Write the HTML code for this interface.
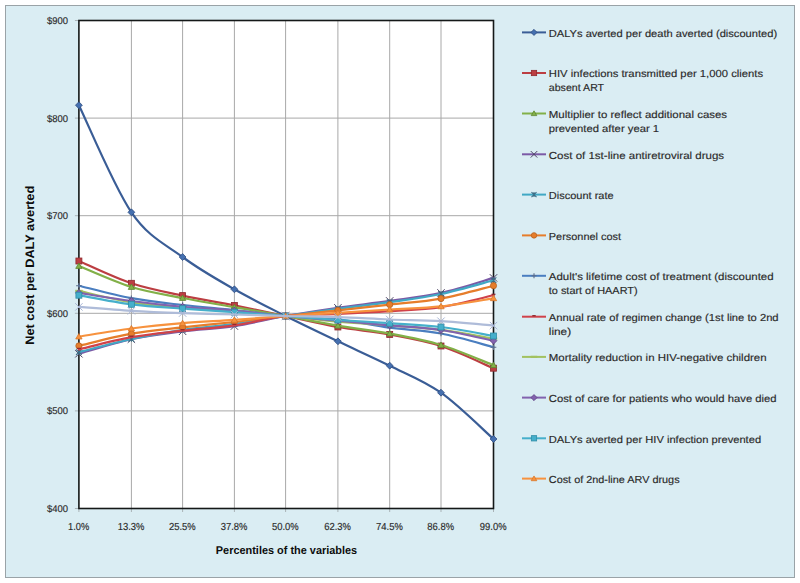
<!DOCTYPE html><html><head><meta charset="utf-8"><style>html,body{margin:0;padding:0;background:#fff;width:800px;height:583px;overflow:hidden}svg{display:block}text{font-family:"Liberation Sans",sans-serif;text-rendering:geometricPrecision}</style></head><body>
<svg width="800" height="583" viewBox="0 0 800 583">
<rect x="5.5" y="5.5" width="789" height="572" fill="#DAEDF3" stroke="#9AA3A7" stroke-width="1"/>
<rect x="78.90" y="20.50" width="414.60" height="488.00" fill="#FFFFFF"/>
<path d="M78.90,118.10H493.50 M78.90,215.70H493.50 M78.90,313.30H493.50 M78.90,410.90H493.50 M131.40,20.50V508.50 M182.60,20.50V508.50 M234.40,20.50V508.50 M285.60,20.50V508.50 M337.90,20.50V508.50 M389.70,20.50V508.50 M441.00,20.50V508.50" stroke="#A8A8A8" stroke-width="1" fill="none"/>
<path d="M74.90,20.50H78.90 M74.90,118.10H78.90 M74.90,215.70H78.90 M74.90,313.30H78.90 M74.90,410.90H78.90 M74.90,508.50H78.90 M78.90,508.50V512.00 M131.40,508.50V512.00 M182.60,508.50V512.00 M234.40,508.50V512.00 M285.60,508.50V512.00 M337.90,508.50V512.00 M389.70,508.50V512.00 M441.00,508.50V512.00 M493.50,508.50V512.00" stroke="#A9B3B7" stroke-width="1" fill="none"/>
<rect x="78.90" y="20.50" width="414.60" height="488.00" fill="none" stroke="#141818" stroke-width="1.6"/>
<path d="M78.90,105.20 C87.65,123.05 114.12,187.00 131.40,212.30 C148.68,237.60 165.43,244.17 182.60,257.00 C199.77,269.83 217.23,279.47 234.40,289.30 C251.57,299.13 268.35,307.33 285.60,316.00 C302.85,324.67 320.55,333.02 337.90,341.30 C355.25,349.58 372.52,357.13 389.70,365.70 C406.88,374.27 423.70,380.48 441.00,392.70 C458.30,404.92 484.75,431.28 493.50,439.00" fill="none" stroke="#3A5D96" stroke-width="2.2" stroke-linejoin="round" stroke-linecap="round"/>
<path d="M78.90,101.77L82.33,105.20L78.90,108.63L75.47,105.20Z" fill="#4570B0" stroke="#2F4D80" stroke-width="0.8"/>
<path d="M131.40,208.87L134.83,212.30L131.40,215.73L127.97,212.30Z" fill="#4570B0" stroke="#2F4D80" stroke-width="0.8"/>
<path d="M182.60,253.57L186.03,257.00L182.60,260.43L179.17,257.00Z" fill="#4570B0" stroke="#2F4D80" stroke-width="0.8"/>
<path d="M234.40,285.87L237.83,289.30L234.40,292.73L230.97,289.30Z" fill="#4570B0" stroke="#2F4D80" stroke-width="0.8"/>
<path d="M285.60,312.57L289.03,316.00L285.60,319.43L282.17,316.00Z" fill="#4570B0" stroke="#2F4D80" stroke-width="0.8"/>
<path d="M337.90,337.87L341.33,341.30L337.90,344.73L334.47,341.30Z" fill="#4570B0" stroke="#2F4D80" stroke-width="0.8"/>
<path d="M389.70,362.27L393.13,365.70L389.70,369.13L386.27,365.70Z" fill="#4570B0" stroke="#2F4D80" stroke-width="0.8"/>
<path d="M441.00,389.27L444.43,392.70L441.00,396.13L437.57,392.70Z" fill="#4570B0" stroke="#2F4D80" stroke-width="0.8"/>
<path d="M493.50,435.57L496.93,439.00L493.50,442.43L490.07,439.00Z" fill="#4570B0" stroke="#2F4D80" stroke-width="0.8"/>
<path d="M78.90,261.00 C87.65,264.72 114.12,277.53 131.40,283.30 C148.68,289.07 165.43,291.92 182.60,295.60 C199.77,299.28 217.23,302.00 234.40,305.40 C251.57,308.80 268.35,312.40 285.60,316.00 C302.85,319.60 320.55,323.92 337.90,327.00 C355.25,330.08 372.52,331.33 389.70,334.50 C406.88,337.67 423.70,340.38 441.00,346.00 C458.30,351.62 484.75,364.50 493.50,368.20" fill="none" stroke="#BC3E42" stroke-width="2.2" stroke-linejoin="round" stroke-linecap="round"/>
<rect x="75.91" y="258.01" width="5.98" height="5.98" fill="#BC3E42" stroke="#8E2A2E" stroke-width="0.8"/>
<rect x="128.41" y="280.31" width="5.98" height="5.98" fill="#BC3E42" stroke="#8E2A2E" stroke-width="0.8"/>
<rect x="179.61" y="292.61" width="5.98" height="5.98" fill="#BC3E42" stroke="#8E2A2E" stroke-width="0.8"/>
<rect x="231.41" y="302.41" width="5.98" height="5.98" fill="#BC3E42" stroke="#8E2A2E" stroke-width="0.8"/>
<rect x="282.61" y="313.01" width="5.98" height="5.98" fill="#BC3E42" stroke="#8E2A2E" stroke-width="0.8"/>
<rect x="334.91" y="324.01" width="5.98" height="5.98" fill="#BC3E42" stroke="#8E2A2E" stroke-width="0.8"/>
<rect x="386.71" y="331.51" width="5.98" height="5.98" fill="#BC3E42" stroke="#8E2A2E" stroke-width="0.8"/>
<rect x="438.01" y="343.01" width="5.98" height="5.98" fill="#BC3E42" stroke="#8E2A2E" stroke-width="0.8"/>
<rect x="490.51" y="365.21" width="5.98" height="5.98" fill="#BC3E42" stroke="#8E2A2E" stroke-width="0.8"/>
<path d="M78.90,266.00 C87.65,269.50 114.12,281.67 131.40,287.00 C148.68,292.33 165.43,294.63 182.60,298.00 C199.77,301.37 217.23,304.20 234.40,307.20 C251.57,310.20 268.35,312.92 285.60,316.00 C302.85,319.08 320.55,322.78 337.90,325.70 C355.25,328.62 372.52,330.28 389.70,333.50 C406.88,336.72 423.70,339.72 441.00,345.00 C458.30,350.28 484.75,361.83 493.50,365.20" fill="none" stroke="#82B048" stroke-width="2.2" stroke-linejoin="round" stroke-linecap="round"/>
<path d="M78.90,262.99L82.07,268.38L75.73,268.38Z" fill="#82B048" stroke="#5E8530" stroke-width="0.8"/>
<path d="M131.40,283.99L134.57,289.38L128.23,289.38Z" fill="#82B048" stroke="#5E8530" stroke-width="0.8"/>
<path d="M182.60,294.99L185.77,300.38L179.43,300.38Z" fill="#82B048" stroke="#5E8530" stroke-width="0.8"/>
<path d="M234.40,304.19L237.57,309.58L231.23,309.58Z" fill="#82B048" stroke="#5E8530" stroke-width="0.8"/>
<path d="M285.60,312.99L288.77,318.38L282.43,318.38Z" fill="#82B048" stroke="#5E8530" stroke-width="0.8"/>
<path d="M337.90,322.69L341.07,328.08L334.73,328.08Z" fill="#82B048" stroke="#5E8530" stroke-width="0.8"/>
<path d="M389.70,330.49L392.87,335.88L386.53,335.88Z" fill="#82B048" stroke="#5E8530" stroke-width="0.8"/>
<path d="M441.00,341.99L444.17,347.38L437.83,347.38Z" fill="#82B048" stroke="#5E8530" stroke-width="0.8"/>
<path d="M493.50,362.19L496.67,367.58L490.33,367.58Z" fill="#82B048" stroke="#5E8530" stroke-width="0.8"/>
<path d="M78.90,353.80 C87.65,351.37 114.12,342.95 131.40,339.20 C148.68,335.45 165.43,333.48 182.60,331.30 C199.77,329.12 217.23,328.65 234.40,326.10 C251.57,323.55 268.35,319.05 285.60,316.00 C302.85,312.95 320.55,310.32 337.90,307.80 C355.25,305.28 372.52,303.38 389.70,300.90 C406.88,298.42 423.70,296.73 441.00,292.90 C458.30,289.07 484.75,280.40 493.50,277.90" fill="none" stroke="#7B5AA6" stroke-width="2.2" stroke-linejoin="round" stroke-linecap="round"/>
<path d="M75.20,350.10L82.60,357.50M75.20,357.50L82.60,350.10" stroke="#4E4466" stroke-width="1.0" fill="none"/>
<path d="M127.70,335.50L135.10,342.90M127.70,342.90L135.10,335.50" stroke="#4E4466" stroke-width="1.0" fill="none"/>
<path d="M178.90,327.60L186.30,335.00M178.90,335.00L186.30,327.60" stroke="#4E4466" stroke-width="1.0" fill="none"/>
<path d="M230.70,322.40L238.10,329.80M230.70,329.80L238.10,322.40" stroke="#4E4466" stroke-width="1.0" fill="none"/>
<path d="M281.90,312.30L289.30,319.70M281.90,319.70L289.30,312.30" stroke="#4E4466" stroke-width="1.0" fill="none"/>
<path d="M334.20,304.10L341.60,311.50M334.20,311.50L341.60,304.10" stroke="#4E4466" stroke-width="1.0" fill="none"/>
<path d="M386.00,297.20L393.40,304.60M386.00,304.60L393.40,297.20" stroke="#4E4466" stroke-width="1.0" fill="none"/>
<path d="M437.30,289.20L444.70,296.60M437.30,296.60L444.70,289.20" stroke="#4E4466" stroke-width="1.0" fill="none"/>
<path d="M489.80,274.20L497.20,281.60M489.80,281.60L497.20,274.20" stroke="#4E4466" stroke-width="1.0" fill="none"/>
<path d="M78.90,352.10 C87.65,349.92 114.12,342.72 131.40,339.00 C148.68,335.28 165.43,332.33 182.60,329.80 C199.77,327.27 217.23,326.10 234.40,323.80 C251.57,321.50 268.35,318.50 285.60,316.00 C302.85,313.50 320.55,311.10 337.90,308.80 C355.25,306.50 372.52,304.67 389.70,302.20 C406.88,299.73 423.70,297.65 441.00,294.00 C458.30,290.35 484.75,282.58 493.50,280.30" fill="none" stroke="#40A8C4" stroke-width="2.2" stroke-linejoin="round" stroke-linecap="round"/>
<path d="M76.08,349.28L81.72,354.92M76.08,354.92L81.72,349.28M78.90,349.28L78.90,354.92" stroke="#3A6D85" stroke-width="1.1" fill="none"/>
<path d="M128.58,336.18L134.22,341.82M128.58,341.82L134.22,336.18M131.40,336.18L131.40,341.82" stroke="#3A6D85" stroke-width="1.1" fill="none"/>
<path d="M179.78,326.98L185.42,332.62M179.78,332.62L185.42,326.98M182.60,326.98L182.60,332.62" stroke="#3A6D85" stroke-width="1.1" fill="none"/>
<path d="M231.58,320.98L237.22,326.62M231.58,326.62L237.22,320.98M234.40,320.98L234.40,326.62" stroke="#3A6D85" stroke-width="1.1" fill="none"/>
<path d="M282.78,313.18L288.42,318.82M282.78,318.82L288.42,313.18M285.60,313.18L285.60,318.82" stroke="#3A6D85" stroke-width="1.1" fill="none"/>
<path d="M335.08,305.98L340.72,311.62M335.08,311.62L340.72,305.98M337.90,305.98L337.90,311.62" stroke="#3A6D85" stroke-width="1.1" fill="none"/>
<path d="M386.88,299.38L392.52,305.02M386.88,305.02L392.52,299.38M389.70,299.38L389.70,305.02" stroke="#3A6D85" stroke-width="1.1" fill="none"/>
<path d="M438.18,291.18L443.82,296.82M438.18,296.82L443.82,291.18M441.00,291.18L441.00,296.82" stroke="#3A6D85" stroke-width="1.1" fill="none"/>
<path d="M490.68,277.48L496.32,283.12M490.68,283.12L496.32,277.48M493.50,277.48L493.50,283.12" stroke="#3A6D85" stroke-width="1.1" fill="none"/>
<path d="M78.90,345.90 C87.65,343.87 114.12,336.78 131.40,333.70 C148.68,330.62 165.43,329.35 182.60,327.40 C199.77,325.45 217.23,323.90 234.40,322.00 C251.57,320.10 268.35,317.93 285.60,316.00 C302.85,314.07 320.55,312.30 337.90,310.40 C355.25,308.50 372.52,306.57 389.70,304.60 C406.88,302.63 423.70,301.75 441.00,298.60 C458.30,295.45 484.75,287.85 493.50,285.70" fill="none" stroke="#E67D2B" stroke-width="2.2" stroke-linejoin="round" stroke-linecap="round"/>
<circle cx="78.90" cy="345.90" r="3.08" fill="#E67D2B" stroke="#B9621E" stroke-width="0.8"/>
<circle cx="131.40" cy="333.70" r="3.08" fill="#E67D2B" stroke="#B9621E" stroke-width="0.8"/>
<circle cx="182.60" cy="327.40" r="3.08" fill="#E67D2B" stroke="#B9621E" stroke-width="0.8"/>
<circle cx="234.40" cy="322.00" r="3.08" fill="#E67D2B" stroke="#B9621E" stroke-width="0.8"/>
<circle cx="285.60" cy="316.00" r="3.08" fill="#E67D2B" stroke="#B9621E" stroke-width="0.8"/>
<circle cx="337.90" cy="310.40" r="3.08" fill="#E67D2B" stroke="#B9621E" stroke-width="0.8"/>
<circle cx="389.70" cy="304.60" r="3.08" fill="#E67D2B" stroke="#B9621E" stroke-width="0.8"/>
<circle cx="441.00" cy="298.60" r="3.08" fill="#E67D2B" stroke="#B9621E" stroke-width="0.8"/>
<circle cx="493.50" cy="285.70" r="3.08" fill="#E67D2B" stroke="#B9621E" stroke-width="0.8"/>
<path d="M78.90,285.70 C87.65,287.78 114.12,294.98 131.40,298.20 C148.68,301.42 165.43,303.02 182.60,305.00 C199.77,306.98 217.23,308.27 234.40,310.10 C251.57,311.93 268.35,314.47 285.60,316.00 C302.85,317.53 320.55,317.35 337.90,319.30 C355.25,321.25 372.52,325.33 389.70,327.70 C406.88,330.07 423.70,330.25 441.00,333.50 C458.30,336.75 484.75,344.92 493.50,347.20" fill="none" stroke="#4A7EC0" stroke-width="2.2" stroke-linejoin="round" stroke-linecap="round"/>
<path d="M76.08,285.70L81.72,285.70M78.90,282.88L78.90,288.52" stroke="#5C6E8C" stroke-width="1.1" fill="none"/>
<path d="M128.58,298.20L134.22,298.20M131.40,295.38L131.40,301.02" stroke="#5C6E8C" stroke-width="1.1" fill="none"/>
<path d="M179.78,305.00L185.42,305.00M182.60,302.18L182.60,307.82" stroke="#5C6E8C" stroke-width="1.1" fill="none"/>
<path d="M231.58,310.10L237.22,310.10M234.40,307.28L234.40,312.92" stroke="#5C6E8C" stroke-width="1.1" fill="none"/>
<path d="M282.78,316.00L288.42,316.00M285.60,313.18L285.60,318.82" stroke="#5C6E8C" stroke-width="1.1" fill="none"/>
<path d="M335.08,319.30L340.72,319.30M337.90,316.48L337.90,322.12" stroke="#5C6E8C" stroke-width="1.1" fill="none"/>
<path d="M386.88,327.70L392.52,327.70M389.70,324.88L389.70,330.52" stroke="#5C6E8C" stroke-width="1.1" fill="none"/>
<path d="M438.18,333.50L443.82,333.50M441.00,330.68L441.00,336.32" stroke="#5C6E8C" stroke-width="1.1" fill="none"/>
<path d="M490.68,347.20L496.32,347.20M493.50,344.38L493.50,350.02" stroke="#5C6E8C" stroke-width="1.1" fill="none"/>
<path d="M78.90,349.40 C87.65,347.37 114.12,340.32 131.40,337.20 C148.68,334.08 165.43,332.68 182.60,330.70 C199.77,328.72 217.23,327.75 234.40,325.30 C251.57,322.85 268.35,317.88 285.60,316.00 C302.85,314.12 320.55,314.80 337.90,314.00 C355.25,313.20 372.52,312.35 389.70,311.20 C406.88,310.05 423.70,309.75 441.00,307.10 C458.30,304.45 484.75,297.27 493.50,295.30" fill="none" stroke="#D0424A" stroke-width="2.2" stroke-linejoin="round" stroke-linecap="round"/>
<path d="M76.96,348.40L80.84,348.40" stroke="#8E2A2E" stroke-width="1.3" fill="none"/>
<path d="M129.46,336.20L133.34,336.20" stroke="#8E2A2E" stroke-width="1.3" fill="none"/>
<path d="M180.66,329.70L184.54,329.70" stroke="#8E2A2E" stroke-width="1.3" fill="none"/>
<path d="M232.46,324.30L236.34,324.30" stroke="#8E2A2E" stroke-width="1.3" fill="none"/>
<path d="M283.66,315.00L287.54,315.00" stroke="#8E2A2E" stroke-width="1.3" fill="none"/>
<path d="M335.96,313.00L339.84,313.00" stroke="#8E2A2E" stroke-width="1.3" fill="none"/>
<path d="M387.76,310.20L391.64,310.20" stroke="#8E2A2E" stroke-width="1.3" fill="none"/>
<path d="M439.06,306.10L442.94,306.10" stroke="#8E2A2E" stroke-width="1.3" fill="none"/>
<path d="M491.56,294.30L495.44,294.30" stroke="#8E2A2E" stroke-width="1.3" fill="none"/>
<path d="M78.90,290.90 C87.65,292.82 114.12,299.55 131.40,302.40 C148.68,305.25 165.43,306.57 182.60,308.00 C199.77,309.43 217.23,309.67 234.40,311.00 C251.57,312.33 268.35,314.23 285.60,316.00 C302.85,317.77 320.55,320.05 337.90,321.60 C355.25,323.15 372.52,323.93 389.70,325.30 C406.88,326.67 423.70,327.58 441.00,329.80 C458.30,332.02 484.75,337.13 493.50,338.60" fill="none" stroke="#A2C25F" stroke-width="2.2" stroke-linejoin="round" stroke-linecap="round"/>
<path d="M75.20,290.90L82.60,290.90" stroke="#A2C25F" stroke-width="2.2" fill="none"/>
<path d="M127.70,302.40L135.10,302.40" stroke="#A2C25F" stroke-width="2.2" fill="none"/>
<path d="M178.90,308.00L186.30,308.00" stroke="#A2C25F" stroke-width="2.2" fill="none"/>
<path d="M230.70,311.00L238.10,311.00" stroke="#A2C25F" stroke-width="2.2" fill="none"/>
<path d="M281.90,316.00L289.30,316.00" stroke="#A2C25F" stroke-width="2.2" fill="none"/>
<path d="M334.20,321.60L341.60,321.60" stroke="#A2C25F" stroke-width="2.2" fill="none"/>
<path d="M386.00,325.30L393.40,325.30" stroke="#A2C25F" stroke-width="2.2" fill="none"/>
<path d="M437.30,329.80L444.70,329.80" stroke="#A2C25F" stroke-width="2.2" fill="none"/>
<path d="M489.80,338.60L497.20,338.60" stroke="#A2C25F" stroke-width="2.2" fill="none"/>
<path d="M78.90,292.90 C87.65,294.25 114.12,298.68 131.40,301.00 C148.68,303.32 165.43,305.22 182.60,306.80 C199.77,308.38 217.23,308.97 234.40,310.50 C251.57,312.03 268.35,314.32 285.60,316.00 C302.85,317.68 320.55,319.05 337.90,320.60 C355.25,322.15 372.52,323.73 389.70,325.30 C406.88,326.87 423.70,327.43 441.00,330.00 C458.30,332.57 484.75,338.92 493.50,340.70" fill="none" stroke="#8262AE" stroke-width="2.2" stroke-linejoin="round" stroke-linecap="round"/>
<path d="M78.90,289.47L82.33,292.90L78.90,296.33L75.47,292.90Z" fill="#8262AE" stroke="#5F4585" stroke-width="0.8"/>
<path d="M131.40,297.57L134.83,301.00L131.40,304.43L127.97,301.00Z" fill="#8262AE" stroke="#5F4585" stroke-width="0.8"/>
<path d="M182.60,303.37L186.03,306.80L182.60,310.23L179.17,306.80Z" fill="#8262AE" stroke="#5F4585" stroke-width="0.8"/>
<path d="M234.40,307.07L237.83,310.50L234.40,313.93L230.97,310.50Z" fill="#8262AE" stroke="#5F4585" stroke-width="0.8"/>
<path d="M285.60,312.57L289.03,316.00L285.60,319.43L282.17,316.00Z" fill="#8262AE" stroke="#5F4585" stroke-width="0.8"/>
<path d="M337.90,317.17L341.33,320.60L337.90,324.03L334.47,320.60Z" fill="#8262AE" stroke="#5F4585" stroke-width="0.8"/>
<path d="M389.70,321.87L393.13,325.30L389.70,328.73L386.27,325.30Z" fill="#8262AE" stroke="#5F4585" stroke-width="0.8"/>
<path d="M441.00,326.57L444.43,330.00L441.00,333.43L437.57,330.00Z" fill="#8262AE" stroke="#5F4585" stroke-width="0.8"/>
<path d="M493.50,337.27L496.93,340.70L493.50,344.13L490.07,340.70Z" fill="#8262AE" stroke="#5F4585" stroke-width="0.8"/>
<path d="M78.90,295.20 C87.65,296.72 114.12,302.05 131.40,304.30 C148.68,306.55 165.43,307.38 182.60,308.70 C199.77,310.02 217.23,310.98 234.40,312.20 C251.57,313.42 268.35,314.70 285.60,316.00 C302.85,317.30 320.55,318.80 337.90,320.00 C355.25,321.20 372.52,322.03 389.70,323.20 C406.88,324.37 423.70,324.87 441.00,327.00 C458.30,329.13 484.75,334.50 493.50,336.00" fill="none" stroke="#45AFCB" stroke-width="2.2" stroke-linejoin="round" stroke-linecap="round"/>
<rect x="75.91" y="292.21" width="5.98" height="5.98" fill="#45AFCB" stroke="#2F8CA6" stroke-width="0.8"/>
<rect x="128.41" y="301.31" width="5.98" height="5.98" fill="#45AFCB" stroke="#2F8CA6" stroke-width="0.8"/>
<rect x="179.61" y="305.71" width="5.98" height="5.98" fill="#45AFCB" stroke="#2F8CA6" stroke-width="0.8"/>
<rect x="231.41" y="309.21" width="5.98" height="5.98" fill="#45AFCB" stroke="#2F8CA6" stroke-width="0.8"/>
<rect x="282.61" y="313.01" width="5.98" height="5.98" fill="#45AFCB" stroke="#2F8CA6" stroke-width="0.8"/>
<rect x="334.91" y="317.01" width="5.98" height="5.98" fill="#45AFCB" stroke="#2F8CA6" stroke-width="0.8"/>
<rect x="386.71" y="320.21" width="5.98" height="5.98" fill="#45AFCB" stroke="#2F8CA6" stroke-width="0.8"/>
<rect x="438.01" y="324.01" width="5.98" height="5.98" fill="#45AFCB" stroke="#2F8CA6" stroke-width="0.8"/>
<rect x="490.51" y="333.01" width="5.98" height="5.98" fill="#45AFCB" stroke="#2F8CA6" stroke-width="0.8"/>
<path d="M78.90,336.60 C87.65,335.25 114.12,330.73 131.40,328.50 C148.68,326.27 165.43,324.63 182.60,323.20 C199.77,321.77 217.23,321.10 234.40,319.90 C251.57,318.70 268.35,317.18 285.60,316.00 C302.85,314.82 320.55,313.88 337.90,312.80 C355.25,311.72 372.52,310.57 389.70,309.50 C406.88,308.43 423.70,308.27 441.00,306.40 C458.30,304.53 484.75,299.65 493.50,298.30" fill="none" stroke="#F7923E" stroke-width="2.2" stroke-linejoin="round" stroke-linecap="round"/>
<path d="M78.90,333.59L82.07,338.98L75.73,338.98Z" fill="#F7923E" stroke="#D9772A" stroke-width="0.8"/>
<path d="M131.40,325.49L134.57,330.88L128.23,330.88Z" fill="#F7923E" stroke="#D9772A" stroke-width="0.8"/>
<path d="M182.60,320.19L185.77,325.58L179.43,325.58Z" fill="#F7923E" stroke="#D9772A" stroke-width="0.8"/>
<path d="M234.40,316.89L237.57,322.28L231.23,322.28Z" fill="#F7923E" stroke="#D9772A" stroke-width="0.8"/>
<path d="M285.60,312.99L288.77,318.38L282.43,318.38Z" fill="#F7923E" stroke="#D9772A" stroke-width="0.8"/>
<path d="M337.90,309.79L341.07,315.18L334.73,315.18Z" fill="#F7923E" stroke="#D9772A" stroke-width="0.8"/>
<path d="M389.70,306.49L392.87,311.88L386.53,311.88Z" fill="#F7923E" stroke="#D9772A" stroke-width="0.8"/>
<path d="M441.00,303.39L444.17,308.78L437.83,308.78Z" fill="#F7923E" stroke="#D9772A" stroke-width="0.8"/>
<path d="M493.50,295.29L496.67,300.68L490.33,300.68Z" fill="#F7923E" stroke="#D9772A" stroke-width="0.8"/>
<path d="M78.90,306.90 C87.65,307.55 114.12,309.77 131.40,310.80 C148.68,311.83 165.43,312.48 182.60,313.10 C199.77,313.72 217.23,314.02 234.40,314.50 C251.57,314.98 268.35,315.55 285.60,316.00 C302.85,316.45 320.55,316.62 337.90,317.20 C355.25,317.78 372.52,318.83 389.70,319.50 C406.88,320.17 423.70,320.18 441.00,321.20 C458.30,322.22 484.75,324.87 493.50,325.60" fill="none" stroke="#AFBCD9" stroke-width="2.2" stroke-linejoin="round" stroke-linecap="round"/>
<path d="M75.20,303.20L82.60,310.60M75.20,310.60L82.60,303.20" stroke="#A8B5D5" stroke-width="1.0" fill="none"/>
<path d="M127.70,307.10L135.10,314.50M127.70,314.50L135.10,307.10" stroke="#A8B5D5" stroke-width="1.0" fill="none"/>
<path d="M178.90,309.40L186.30,316.80M178.90,316.80L186.30,309.40" stroke="#A8B5D5" stroke-width="1.0" fill="none"/>
<path d="M230.70,310.80L238.10,318.20M230.70,318.20L238.10,310.80" stroke="#A8B5D5" stroke-width="1.0" fill="none"/>
<path d="M281.90,312.30L289.30,319.70M281.90,319.70L289.30,312.30" stroke="#A8B5D5" stroke-width="1.0" fill="none"/>
<path d="M334.20,313.50L341.60,320.90M334.20,320.90L341.60,313.50" stroke="#A8B5D5" stroke-width="1.0" fill="none"/>
<path d="M386.00,315.80L393.40,323.20M386.00,323.20L393.40,315.80" stroke="#A8B5D5" stroke-width="1.0" fill="none"/>
<path d="M437.30,317.50L444.70,324.90M437.30,324.90L444.70,317.50" stroke="#A8B5D5" stroke-width="1.0" fill="none"/>
<path d="M489.80,321.90L497.20,329.30M489.80,329.30L497.20,321.90" stroke="#A8B5D5" stroke-width="1.0" fill="none"/>
<text x="68" y="24.00" font-size="9.8" fill="#2A2A2A" stroke="#2A2A2A" stroke-width="0.15" text-anchor="end" textLength="21" lengthAdjust="spacingAndGlyphs">$900</text>
<text x="68" y="121.60" font-size="9.8" fill="#2A2A2A" stroke="#2A2A2A" stroke-width="0.15" text-anchor="end" textLength="21" lengthAdjust="spacingAndGlyphs">$800</text>
<text x="68" y="219.20" font-size="9.8" fill="#2A2A2A" stroke="#2A2A2A" stroke-width="0.15" text-anchor="end" textLength="21" lengthAdjust="spacingAndGlyphs">$700</text>
<text x="68" y="316.80" font-size="9.8" fill="#2A2A2A" stroke="#2A2A2A" stroke-width="0.15" text-anchor="end" textLength="21" lengthAdjust="spacingAndGlyphs">$600</text>
<text x="68" y="414.40" font-size="9.8" fill="#2A2A2A" stroke="#2A2A2A" stroke-width="0.15" text-anchor="end" textLength="21" lengthAdjust="spacingAndGlyphs">$500</text>
<text x="68" y="512.00" font-size="9.8" fill="#2A2A2A" stroke="#2A2A2A" stroke-width="0.15" text-anchor="end" textLength="21" lengthAdjust="spacingAndGlyphs">$400</text>
<text x="78.60" y="529.8" font-size="10.2" fill="#2A2A2A" stroke="#2A2A2A" stroke-width="0.15" text-anchor="middle" textLength="21.3" lengthAdjust="spacingAndGlyphs">1.0%</text>
<text x="131.10" y="529.8" font-size="10.2" fill="#2A2A2A" stroke="#2A2A2A" stroke-width="0.15" text-anchor="middle" textLength="26.8" lengthAdjust="spacingAndGlyphs">13.3%</text>
<text x="182.30" y="529.8" font-size="10.2" fill="#2A2A2A" stroke="#2A2A2A" stroke-width="0.15" text-anchor="middle" textLength="26.8" lengthAdjust="spacingAndGlyphs">25.5%</text>
<text x="234.10" y="529.8" font-size="10.2" fill="#2A2A2A" stroke="#2A2A2A" stroke-width="0.15" text-anchor="middle" textLength="26.8" lengthAdjust="spacingAndGlyphs">37.8%</text>
<text x="285.30" y="529.8" font-size="10.2" fill="#2A2A2A" stroke="#2A2A2A" stroke-width="0.15" text-anchor="middle" textLength="26.8" lengthAdjust="spacingAndGlyphs">50.0%</text>
<text x="337.60" y="529.8" font-size="10.2" fill="#2A2A2A" stroke="#2A2A2A" stroke-width="0.15" text-anchor="middle" textLength="26.8" lengthAdjust="spacingAndGlyphs">62.3%</text>
<text x="389.40" y="529.8" font-size="10.2" fill="#2A2A2A" stroke="#2A2A2A" stroke-width="0.15" text-anchor="middle" textLength="26.8" lengthAdjust="spacingAndGlyphs">74.5%</text>
<text x="440.70" y="529.8" font-size="10.2" fill="#2A2A2A" stroke="#2A2A2A" stroke-width="0.15" text-anchor="middle" textLength="26.8" lengthAdjust="spacingAndGlyphs">86.8%</text>
<text x="493.20" y="529.8" font-size="10.2" fill="#2A2A2A" stroke="#2A2A2A" stroke-width="0.15" text-anchor="middle" textLength="26.8" lengthAdjust="spacingAndGlyphs">99.0%</text>
<text x="286.5" y="553.9" font-size="11.3" font-weight="bold" fill="#0D0D0D" text-anchor="middle" textLength="141.3" lengthAdjust="spacingAndGlyphs">Percentiles of the variables</text>
<text transform="translate(34.2,265.3) rotate(-90)" x="0" y="0" font-size="12.3" font-weight="bold" fill="#0D0D0D" text-anchor="middle" textLength="159" lengthAdjust="spacingAndGlyphs">Net cost per DALY averted</text>
<path d="M522,32.40H546" stroke="#3A5D96" stroke-width="2" fill="none"/>
<path d="M534.00,29.36L537.04,32.40L534.00,35.44L530.96,32.40Z" fill="#4570B0" stroke="#2F4D80" stroke-width="0.8"/>
<text x="548.8" y="36.70" font-size="10.2" fill="#2A2A2A" stroke="#2A2A2A" stroke-width="0.15" textLength="228.3" lengthAdjust="spacingAndGlyphs">DALYs averted per death averted (discounted)</text>
<path d="M522,73.00H546" stroke="#BC3E42" stroke-width="2" fill="none"/>
<rect x="531.35" y="70.35" width="5.30" height="5.30" fill="#BC3E42" stroke="#8E2A2E" stroke-width="0.8"/>
<text x="548.8" y="77.30" font-size="10.2" fill="#2A2A2A" stroke="#2A2A2A" stroke-width="0.15" textLength="214.3" lengthAdjust="spacingAndGlyphs">HIV infections transmitted per 1,000 clients</text>
<text x="548.8" y="91.40" font-size="10.2" fill="#2A2A2A" stroke="#2A2A2A" stroke-width="0.15" textLength="55.3" lengthAdjust="spacingAndGlyphs">absent ART</text>
<path d="M522,113.50H546" stroke="#82B048" stroke-width="2" fill="none"/>
<path d="M534.00,110.83L536.81,115.61L531.19,115.61Z" fill="#82B048" stroke="#5E8530" stroke-width="0.8"/>
<text x="548.8" y="117.80" font-size="10.2" fill="#2A2A2A" stroke="#2A2A2A" stroke-width="0.15" textLength="178.3" lengthAdjust="spacingAndGlyphs">Multiplier to reflect additional cases</text>
<text x="548.8" y="131.90" font-size="10.2" fill="#2A2A2A" stroke="#2A2A2A" stroke-width="0.15" textLength="110.3" lengthAdjust="spacingAndGlyphs">prevented after year 1</text>
<path d="M522,154.30H546" stroke="#7B5AA6" stroke-width="2" fill="none"/>
<path d="M530.72,151.02L537.28,157.58M530.72,157.58L537.28,151.02" stroke="#4E4466" stroke-width="1.0" fill="none"/>
<text x="548.8" y="158.60" font-size="10.2" fill="#2A2A2A" stroke="#2A2A2A" stroke-width="0.15" textLength="175.3" lengthAdjust="spacingAndGlyphs">Cost of 1st-line antiretroviral drugs</text>
<path d="M522,194.60H546" stroke="#40A8C4" stroke-width="2" fill="none"/>
<path d="M531.50,192.10L536.50,197.10M531.50,197.10L536.50,192.10M534.00,192.10L534.00,197.10" stroke="#3A6D85" stroke-width="1.1" fill="none"/>
<text x="548.8" y="198.90" font-size="10.2" fill="#2A2A2A" stroke="#2A2A2A" stroke-width="0.15" textLength="64.8" lengthAdjust="spacingAndGlyphs">Discount rate</text>
<path d="M522,235.40H546" stroke="#E67D2B" stroke-width="2" fill="none"/>
<circle cx="534.00" cy="235.40" r="2.73" fill="#E67D2B" stroke="#B9621E" stroke-width="0.8"/>
<text x="548.8" y="239.70" font-size="10.2" fill="#2A2A2A" stroke="#2A2A2A" stroke-width="0.15" textLength="72.3" lengthAdjust="spacingAndGlyphs">Personnel cost</text>
<path d="M522,275.80H546" stroke="#4A7EC0" stroke-width="2" fill="none"/>
<path d="M531.50,275.80L536.50,275.80M534.00,273.30L534.00,278.30" stroke="#5C6E8C" stroke-width="1.1" fill="none"/>
<text x="548.8" y="280.10" font-size="10.2" fill="#2A2A2A" stroke="#2A2A2A" stroke-width="0.15" textLength="224.8" lengthAdjust="spacingAndGlyphs">Adult's lifetime cost of treatment (discounted</text>
<text x="548.8" y="294.20" font-size="10.2" fill="#2A2A2A" stroke="#2A2A2A" stroke-width="0.15" textLength="88.8" lengthAdjust="spacingAndGlyphs">to start of HAART)</text>
<path d="M522,316.70H546" stroke="#D0424A" stroke-width="2" fill="none"/>
<path d="M532.28,315.70L535.72,315.70" stroke="#8E2A2E" stroke-width="1.3" fill="none"/>
<text x="548.8" y="321.00" font-size="10.2" fill="#2A2A2A" stroke="#2A2A2A" stroke-width="0.15" textLength="229.8" lengthAdjust="spacingAndGlyphs">Annual rate of regimen change (1st line to 2nd</text>
<text x="548.8" y="335.10" font-size="10.2" fill="#2A2A2A" stroke="#2A2A2A" stroke-width="0.15" textLength="22.3" lengthAdjust="spacingAndGlyphs">line)</text>
<path d="M522,356.90H546" stroke="#A2C25F" stroke-width="2" fill="none"/>
<path d="M530.72,356.90L537.28,356.90" stroke="#A2C25F" stroke-width="2.2" fill="none"/>
<text x="548.8" y="361.20" font-size="10.2" fill="#2A2A2A" stroke="#2A2A2A" stroke-width="0.15" textLength="217.8" lengthAdjust="spacingAndGlyphs">Mortality reduction in HIV-negative children</text>
<path d="M522,397.60H546" stroke="#8262AE" stroke-width="2" fill="none"/>
<path d="M534.00,394.56L537.04,397.60L534.00,400.64L530.96,397.60Z" fill="#8262AE" stroke="#5F4585" stroke-width="0.8"/>
<text x="548.8" y="401.90" font-size="10.2" fill="#2A2A2A" stroke="#2A2A2A" stroke-width="0.15" textLength="227.8" lengthAdjust="spacingAndGlyphs">Cost of care for patients who would have died</text>
<path d="M522,438.30H546" stroke="#45AFCB" stroke-width="2" fill="none"/>
<rect x="531.35" y="435.65" width="5.30" height="5.30" fill="#45AFCB" stroke="#2F8CA6" stroke-width="0.8"/>
<text x="548.8" y="442.60" font-size="10.2" fill="#2A2A2A" stroke="#2A2A2A" stroke-width="0.15" textLength="212.3" lengthAdjust="spacingAndGlyphs">DALYs averted per HIV infection prevented</text>
<path d="M522,478.60H546" stroke="#F7923E" stroke-width="2" fill="none"/>
<path d="M534.00,475.93L536.81,480.71L531.19,480.71Z" fill="#F7923E" stroke="#D9772A" stroke-width="0.8"/>
<text x="548.8" y="482.90" font-size="10.2" fill="#2A2A2A" stroke="#2A2A2A" stroke-width="0.15" textLength="130.8" lengthAdjust="spacingAndGlyphs">Cost of 2nd-line ARV drugs</text>
</svg></body></html>
